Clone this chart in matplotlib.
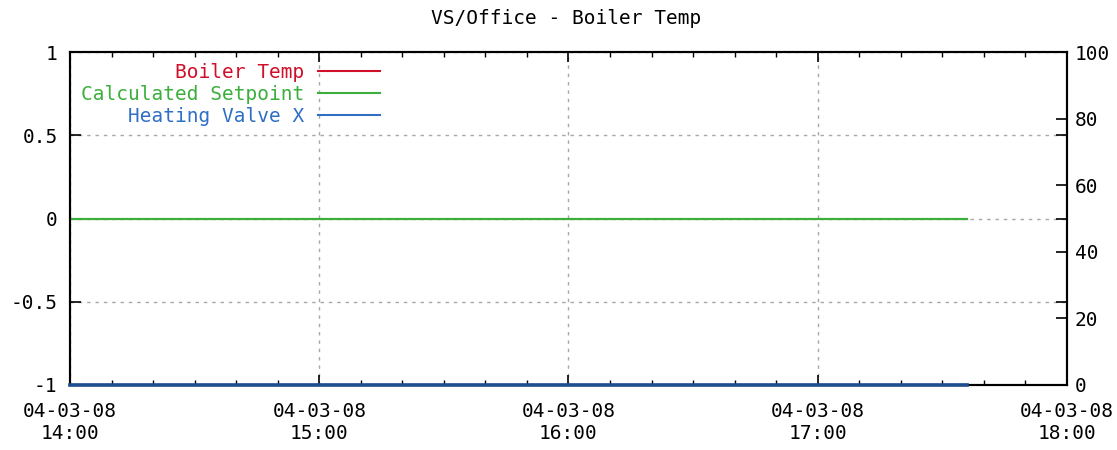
import matplotlib
matplotlib.use("Agg")
import matplotlib.pyplot as plt
import matplotlib.dates as mdates
from matplotlib.ticker import FixedLocator, FuncFormatter
from datetime import datetime

plt.rcParams['font.family'] = ['DejaVu Sans Mono']
plt.rcParams['axes.unicode_minus'] = False

# ---- data ----
times = ["14:00", "14:30", "15:00", "15:30", "16:00", "16:30", "17:00", "17:30", "17:36"]
boiler_temp = [-1, -1, -1, -1, -1, -1, -1, -1, -1]
calc_setpoint = [0, 0, 0, 0, 0, 0, 0, 0, 0]
heating_valve = [0, 0, 0, 0, 0, 0, 0, 0, 0]
date_str = "2004-03-08"
x_start, x_end = "14:00", "18:00"
left_ticks = [-1, -0.5, 0, 0.5, 1]
right_ticks = [0, 20, 40, 60, 80, 100]
title = "VS/Office - Boiler Temp"
labels = ["Boiler Temp", "Calculated Setpoint", "Heating Valve X"]
colors = ["#d0102a", "#3cae3c", "#2f6fc4"]

def ts(t):
    return datetime.strptime(date_str + " " + t, "%Y-%m-%d %H:%M")

xs = [ts(t) for t in times]

fig = plt.figure(figsize=(11.17, 4.5), dpi=100)
ax = fig.add_axes([70/1117, 1-385/450, 997/1117, 333/450])
ax2 = ax.twinx()

fs = 14
l1, = ax.plot(xs, boiler_temp, color=colors[0], lw=1.5, zorder=3)
l2, = ax.plot(xs, calc_setpoint, color=colors[1], lw=1.6, zorder=3)
l3, = ax2.plot(xs, heating_valve, color="#1f4f8f", lw=2.6, zorder=5, clip_on=False)

ax.set_xlim(ts(x_start), ts(x_end))
ax.set_ylim(-1, 1)
ax2.set_ylim(0, 100)

ax.xaxis.set_major_locator(mdates.HourLocator())
ax.xaxis.set_minor_locator(mdates.MinuteLocator(byminute=[10, 20, 30, 40, 50]))
ax.xaxis.set_major_formatter(mdates.DateFormatter("%y-%m-%d\n%H:%M"))
ax.yaxis.set_major_locator(FixedLocator(left_ticks))
ax.yaxis.set_major_formatter(FuncFormatter(lambda v, p: ("%g" % v)))
ax2.yaxis.set_major_locator(FixedLocator(right_ticks))

ax.tick_params(axis='x', which='major', direction='in', length=7, width=1.2,
               top=True, labelsize=fs, pad=12, colors='black')
ax.tick_params(axis='x', which='minor', direction='in', length=3.5, width=1.0,
               top=True, bottom=True)
ax.tick_params(axis='y', which='major', direction='in', length=8, width=1.2,
               right=True, labelsize=fs, pad=9)
ax2.tick_params(axis='y', which='major', direction='in', length=8, width=1.2,
                labelsize=fs, pad=5.5)

fig.canvas.draw()
for lab in ax.get_xticklabels():
    lab.set_linespacing(1.2)

ax.grid(True, which='major', color='#a8a8a8', linestyle=(0, (2.5, 3.5)), lw=1.0)
for sp in list(ax.spines.values()) + list(ax2.spines.values()):
    sp.set_linewidth(1.5)
    sp.set_color('black')

fig.text(566/1117, 1-18/450, title, ha='center', va='center', fontsize=fs)

leg = ax.legend([l1, l2, l3], labels, loc='upper left', bbox_to_anchor=(0.011, 0.967),
                frameon=False, markerfirst=False, fontsize=fs, labelcolor=colors,
                handlelength=3.2, handletextpad=0.7, labelspacing=0.15, borderpad=0,
                borderaxespad=0)
for h, c in zip(leg.legend_handles, colors):
    h.set_color(c)
    h.set_linewidth(1.5)

fig.savefig("out.png", dpi=100)
